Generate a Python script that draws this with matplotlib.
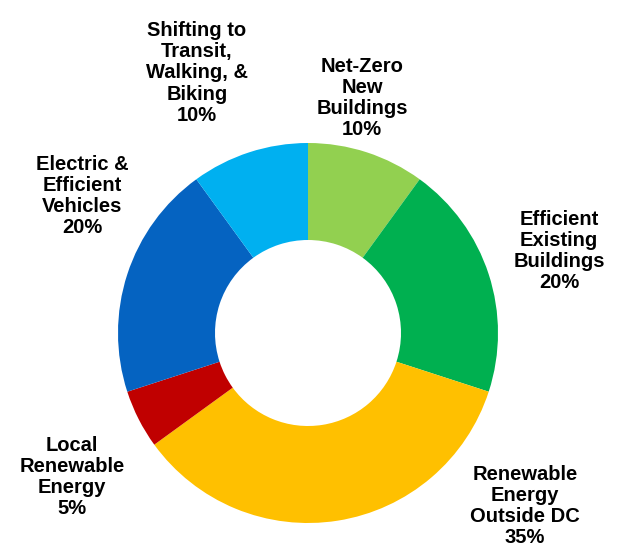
import matplotlib.pyplot as plt

categories = ["Net-Zero\nNew\nBuildings", "Efficient\nExisting\nBuildings",
              "Renewable\nEnergy\nOutside DC", "Local\nRenewable\nEnergy",
              "Electric &\nEfficient\nVehicles", "Shifting to\nTransit,\nWalking, &\nBiking"]
shares = [10, 20, 35, 5, 20, 10]
colors = ["#92D050", "#00B050", "#FFC000", "#C00000", "#0563C1", "#00B0F0"]

# label centres in pixel coords (x, y from top)
label_pos = [(362, 98), (559, 251), (525, 506), (72, 477), (82, 196), (197, 73)]

W, H = 633, 556
fig = plt.figure(figsize=(W / 100, H / 100), dpi=100)
ax = fig.add_axes([0, 0, 1, 1])

ax.pie(shares, colors=colors, startangle=90, counterclock=False,
       center=(308, H - 333), radius=190, frame=True,
       wedgeprops=dict(width=97, linewidth=0))
ax.set_xlim(0, W)
ax.set_ylim(0, H)
ax.set_aspect("equal")
ax.axis("off")

for name, val, (x, y) in zip(categories, shares, label_pos):
    ax.text(x, H - y, f"{name}\n{val}%", ha="center", va="center",
            fontsize=14.5, fontweight="bold", family="Liberation Sans",
            linespacing=1.15, color="black")

fig.savefig("out.png", dpi=100)
